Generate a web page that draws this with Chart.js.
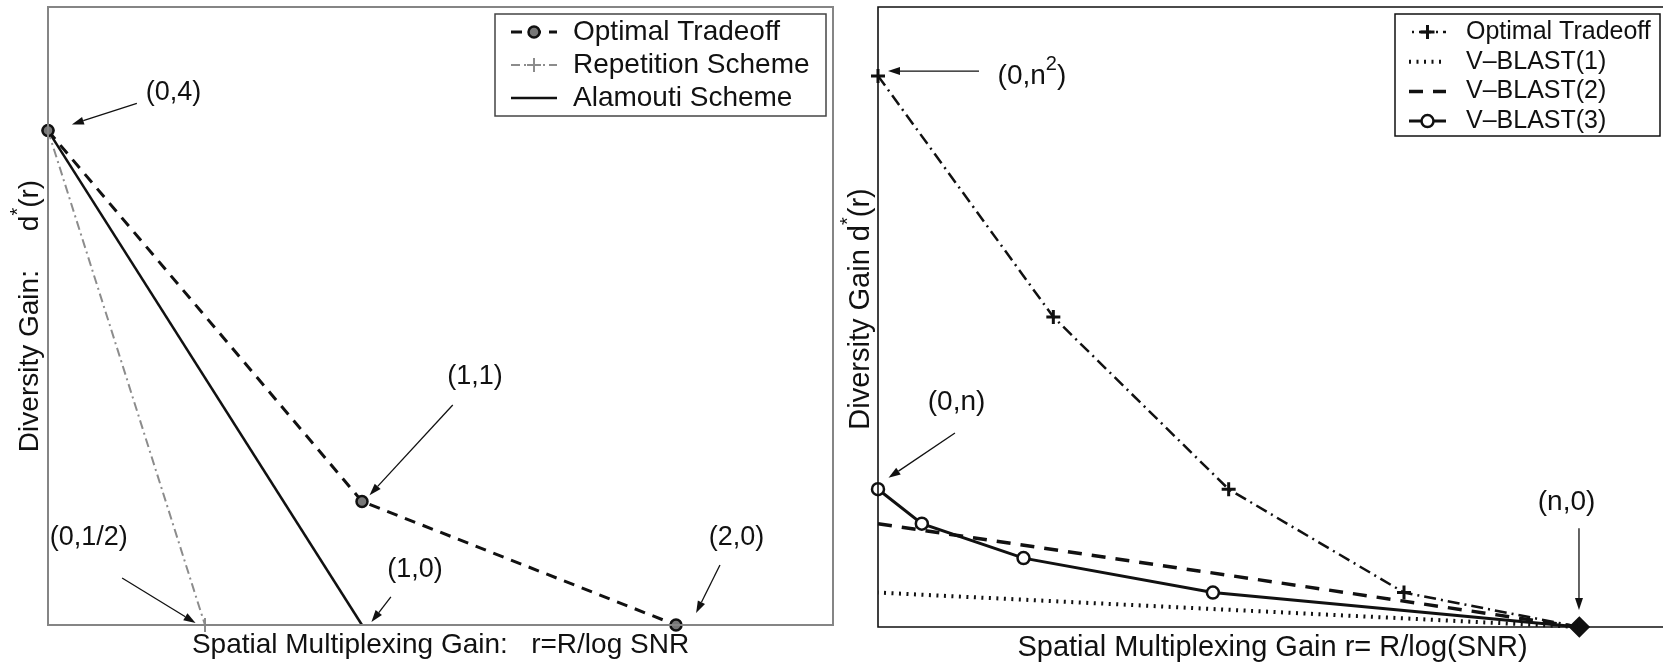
<!DOCTYPE html>
<html lang="en">
<head>
<meta charset="UTF-8">
<title>Diversity-multiplexing tradeoff</title>
<script src="https://cdn.jsdelivr.net/npm/chart.js@4.4.0/dist/chart.umd.min.js"></script>
<style>
    html, body { margin: 0; padding: 0; overflow: hidden; background: #fff; }
    body { position: relative; width: 1663px; height: 665px; }
    .panel { position: absolute; top: 0; height: 665px; }
    #leftPanel { left: 0; width: 840px; }
    #rightPanel { left: 840px; width: 830px; }
</style>
</head>
<body>

<div class="panel" id="leftPanel"><canvas id="leftChart"></canvas></div>
<div class="panel" id="rightPanel"><canvas id="rightChart"></canvas></div>

<script>
    // left panel: 2x2 channel
    const leftOptimalR = [0, 1, 2];
    const leftOptimalD = [4, 1, 0];
    const repetitionR = [0, 0.5];
    const repetitionD = [4, 0];
    const alamoutiR = [0, 1];
    const alamoutiD = [4, 0];

    // right panel: n x n channel (drawn with n = 4)
    const rightOptimalR = [0, 1, 2, 3, 4];
    const rightOptimalD = [16, 9, 4, 1, 0];
    const vblast1R = [0, 4];
    const vblast1D = [1, 0];
    const vblast2R = [0, 4];
    const vblast2D = [3, 0];
    const vblast3R = [0, 0.25, 0.83, 1.91, 4];
    const vblast3D = [4, 3, 2, 1, 0];

    const FONT = "'Liberation Sans', Arial, Helvetica, sans-serif";
    const INK = '#111';

    const pts = (xs, ys) => xs.map((v, i) => ({ x: v, y: ys[i] }));

    // "^c" marks a single superscript character
    function richParts(str) {
        const parts = [];
        for (let i = 0; i < str.length; i++) {
            if (str[i] === '^') {
                parts.push({ t: str[i + 1], sup: true });
                i++;
            } else if (parts.length && !parts[parts.length - 1].sup) {
                parts[parts.length - 1].t += str[i];
            } else {
                parts.push({ t: str[i], sup: false });
            }
        }
        return parts;
    }

    function drawRich(ctx, str, cx, cy, size) {
        const parts = richParts(str);
        const fontFor = p => (p.sup ? Math.round(size * 0.7) : size) + 'px ' + FONT;
        let total = 0;
        for (const p of parts) {
            ctx.font = fontFor(p);
            p.w = ctx.measureText(p.t).width;
            total += p.w;
        }
        let x = cx - total / 2;
        ctx.textAlign = 'left';
        ctx.textBaseline = 'middle';
        for (const p of parts) {
            ctx.font = fontFor(p);
            ctx.fillText(p.t, x, p.sup ? cy - size * 0.42 : cy);
            x += p.w;
        }
    }

    function drawArrow(ctx, x1, y1, x2, y2) {
        const ang = Math.atan2(y2 - y1, x2 - x1);
        const len = 12, half = 4;
        const bx = x2 - len * Math.cos(ang), by = y2 - len * Math.sin(ang);
        ctx.beginPath();
        ctx.moveTo(x1, y1);
        ctx.lineTo(bx, by);
        ctx.stroke();
        ctx.beginPath();
        ctx.moveTo(x2, y2);
        ctx.lineTo(bx + half * Math.sin(ang), by - half * Math.cos(ang));
        ctx.lineTo(bx - half * Math.sin(ang), by + half * Math.cos(ang));
        ctx.closePath();
        ctx.fill();
    }

    const first = v => Array.isArray(v) ? v[0] : v;

    const figurePlugin = {
        id: 'figure',
        afterDatasetsDraw(chart, args, opts) {
            const { ctx, chartArea: a, scales: { x, y } } = chart;
            ctx.save();

            // frame round the plot (the right panel runs off the page edge)
            ctx.strokeStyle = opts.frameColor;
            ctx.lineWidth = opts.frameWidth;
            ctx.beginPath();
            if (opts.openRight) {
                ctx.moveTo(chart.width, a.top);
                ctx.lineTo(a.left, a.top);
                ctx.lineTo(a.left, a.bottom);
                ctx.lineTo(chart.width, a.bottom);
            } else {
                ctx.rect(a.left, a.top, a.right - a.left, a.bottom - a.top);
            }
            ctx.stroke();

            // arrows and point labels
            ctx.fillStyle = INK;
            ctx.strokeStyle = INK;
            ctx.lineWidth = 1.3;
            for (const n of opts.notes) {
                drawRich(ctx, n.text, x.getPixelForValue(n.at[0]), y.getPixelForValue(n.at[1]), opts.noteSize);
                drawArrow(ctx,
                    x.getPixelForValue(n.from[0]), y.getPixelForValue(n.from[1]),
                    x.getPixelForValue(n.to[0]), y.getPixelForValue(n.to[1]));
            }

            // axis titles
            drawRich(ctx, opts.xTitle, (a.left + a.right) / 2, a.bottom + opts.xTitleGap, opts.titleSize);
            ctx.save();
            ctx.translate(a.left - opts.yTitleGap, (a.top + a.bottom) / 2 + opts.yTitleShift);
            ctx.rotate(-Math.PI / 2);
            drawRich(ctx, opts.yTitle, 0, 0, opts.titleSize);
            ctx.restore();

            // legend box in the upper right corner
            const lg = opts.legend;
            const bx = a.right - lg.inset - lg.w, by = a.top + lg.inset;
            ctx.fillStyle = '#fff';
            ctx.fillRect(bx, by, lg.w, lg.h);
            ctx.strokeStyle = lg.color;
            ctx.lineWidth = 1.5;
            ctx.strokeRect(bx, by, lg.w, lg.h);
            chart.data.datasets.forEach((ds, i) => {
                const yy = by + lg.firstRow + i * lg.rowGap;
                ctx.save();
                ctx.strokeStyle = ds.borderColor;
                ctx.lineWidth = ds.borderWidth;
                ctx.setLineDash(ds.borderDash || []);
                ctx.lineDashOffset = ds.legendDashOffset || 0;
                ctx.beginPath();
                ctx.moveTo(bx + lg.sampleFrom, yy);
                ctx.lineTo(bx + lg.sampleTo, yy);
                ctx.stroke();
                ctx.restore();
                if (first(ds.pointRadius) > 0) {
                    ctx.save();
                    ctx.fillStyle = first(ds.pointBackgroundColor);
                    ctx.strokeStyle = first(ds.pointBorderColor);
                    ctx.lineWidth = first(ds.pointBorderWidth);
                    Chart.helpers.drawPoint(ctx, {
                        pointStyle: first(ds.pointStyle),
                        radius: first(ds.pointRadius),
                        borderWidth: first(ds.pointBorderWidth),
                        rotation: 0
                    }, bx + (lg.sampleFrom + lg.sampleTo) / 2, yy);
                    ctx.restore();
                }
                ctx.fillStyle = INK;
                ctx.font = lg.size + 'px ' + FONT;
                ctx.textAlign = 'left';
                ctx.textBaseline = 'middle';
                ctx.fillText(ds.label, bx + lg.textX, yy);
            });

            ctx.restore();
        }
    };

    function baseOptions(xMax, yMax, padding, figure) {
        return {
            responsive: true,
            maintainAspectRatio: false,
            animation: false,
            layout: { padding: padding, autoPadding: false },
            scales: {
                x: { type: 'linear', min: 0, max: xMax, display: false },
                y: { type: 'linear', min: 0, max: yMax, display: false }
            },
            plugins: {
                legend: { display: false },
                tooltip: { enabled: false },
                figure: figure
            }
        };
    }

    new Chart(document.getElementById('leftChart'), {
        type: 'scatter',
        data: {
            datasets: [{
                label: 'Optimal Tradeoff',
                data: pts(leftOptimalR, leftOptimalD),
                showLine: true,
                clip: false,
                borderColor: INK,
                borderWidth: 3,
                borderDash: [11, 8],
                pointStyle: 'circle',
                pointRadius: 5.5,
                pointBorderWidth: 2.5,
                pointBorderColor: INK,
                pointBackgroundColor: '#777'
            }, {
                label: 'Repetition Scheme',
                data: pts(repetitionR, repetitionD),
                showLine: true,
                clip: false,
                borderColor: '#8c8c8c',
                borderWidth: 2,
                borderDash: [9, 4, 2, 4],
                pointStyle: 'cross',
                pointRadius: 7,
                pointBorderWidth: 2,
                pointBorderColor: '#8c8c8c',
                pointBackgroundColor: '#8c8c8c'
            }, {
                label: 'Alamouti Scheme',
                data: pts(alamoutiR, alamoutiD),
                showLine: true,
                clip: false,
                borderColor: INK,
                borderWidth: 2.5,
                pointRadius: 0
            }]
        },
        options: baseOptions(2.5, 5, { left: 48, top: 7, right: 7, bottom: 40 }, {
            frameColor: '#858585',
            frameWidth: 2,
            openRight: false,
            noteSize: 27,
            titleSize: 28,
            xTitle: 'Spatial Multiplexing Gain:   r=R/log SNR',
            xTitleGap: 20,
            yTitle: 'Diversity Gain:     d^*(r)',
            yTitleGap: 18,
            yTitleShift: 0,
            notes: [
                { text: '(0,4)', at: [0.40, 4.31], from: [0.283, 4.22], to: [0.076, 4.05] },
                { text: '(1,1)', at: [1.36, 2.01], from: [1.289, 1.78], to: [1.024, 1.05] },
                { text: '(0,1/2)', at: [0.13, 0.71], from: [0.236, 0.38], to: [0.47, 0.016] },
                { text: '(1,0)', at: [1.169, 0.445], from: [1.092, 0.227], to: [1.03, 0.024] },
                { text: '(2,0)', at: [2.193, 0.71], from: [2.14, 0.485], to: [2.064, 0.097] }
            ],
            legend: {
                w: 331, h: 102, inset: 7, color: '#444', size: 28,
                firstRow: 18, rowGap: 33, sampleFrom: 16, sampleTo: 62, textX: 78
            }
        }),
        plugins: [figurePlugin]
    });

    new Chart(document.getElementById('rightChart'), {
        type: 'scatter',
        data: {
            datasets: [{
                label: 'Optimal Tradeoff',
                data: pts(rightOptimalR, rightOptimalD),
                showLine: true,
                clip: false,
                borderColor: INK,
                borderWidth: 2.5,
                borderDash: [12, 5, 2, 5],
                legendDashOffset: 14,
                pointStyle: 'cross',
                pointRadius: 7,
                pointBorderWidth: 3,
                pointBorderColor: INK,
                pointBackgroundColor: INK
            }, {
                label: 'V\u2013BLAST(1)',
                data: pts(vblast1R, vblast1D),
                showLine: true,
                clip: false,
                borderColor: INK,
                borderWidth: 4,
                borderDash: [2, 5.5],
                borderDashOffset: -6,
                pointRadius: 0
            }, {
                label: 'V\u2013BLAST(2)',
                data: pts(vblast2R, vblast2D),
                showLine: true,
                clip: false,
                borderColor: INK,
                borderWidth: 3.5,
                borderDash: [14, 10],
                pointRadius: 0
            }, {
                label: 'V\u2013BLAST(3)',
                data: pts(vblast3R, vblast3D),
                showLine: true,
                clip: false,
                borderColor: INK,
                borderWidth: 3,
                pointStyle: ['circle', 'circle', 'circle', 'circle', 'rectRot'],
                pointRadius: [6, 6, 6, 6, 9],
                pointBorderWidth: 2.5,
                pointBorderColor: INK,
                pointBackgroundColor: ['#fff', '#fff', '#fff', '#fff', INK]
            }]
        },
        options: baseOptions(4.5, 18, { left: 38, top: 7, right: 3, bottom: 38 }, {
            frameColor: INK,
            frameWidth: 1.6,
            openRight: true,
            noteSize: 28,
            titleSize: 29,
            xTitle: 'Spatial Multiplexing Gain r= R/log(SNR)',
            xTitleGap: 21,
            yTitle: 'Diversity Gain d^*(r)',
            yTitleGap: 17,
            yTitleShift: -8,
            notes: [
                { text: '(0,n^2)', at: [0.878, 16.0], from: [0.576, 16.14], to: [0.057, 16.14] },
                { text: '(0,n)', at: [0.448, 6.53], from: [0.439, 5.63], to: [0.06, 4.33] },
                { text: '(n,0)', at: [3.927, 3.63], from: [3.998, 2.87], to: [3.998, 0.49] }
            ],
            legend: {
                w: 265, h: 122, inset: 7, color: INK, size: 25,
                firstRow: 18, rowGap: 29.7, sampleFrom: 14, sampleTo: 51, textX: 71
            }
        }),
        plugins: [figurePlugin]
    });
</script>

</body>
</html>
